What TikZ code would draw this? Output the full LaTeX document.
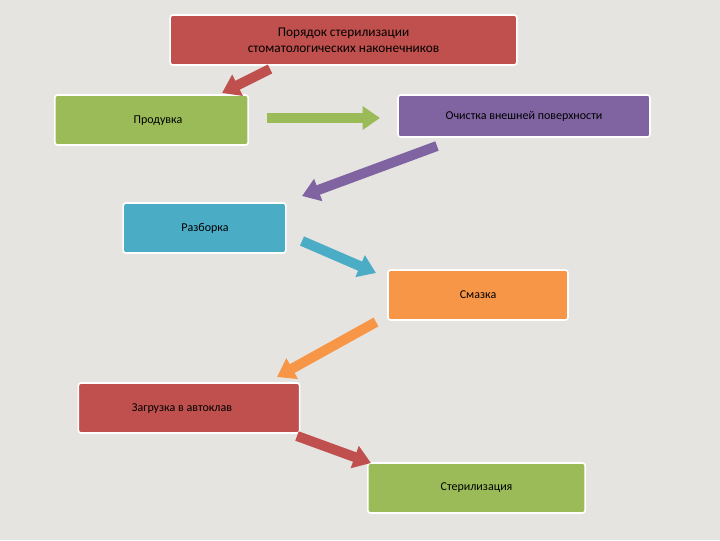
\documentclass[tikz,border=0pt]{standalone}
\usepackage{fontspec}
\setmainfont{Carlito}
\usetikzlibrary{arrows.meta}
\definecolor{cred}{HTML}{C0504D}
\definecolor{cgreen}{HTML}{9BBB59}
\definecolor{cpurple}{HTML}{8064A2}
\definecolor{cblue}{HTML}{4BACC6}
\definecolor{corange}{HTML}{F79646}
\definecolor{bg}{HTML}{E6E4E0}
\tikzset{
 box/.style={draw=white,line width=1.2pt,rounded corners=2pt,minimum height=37.5pt,inner sep=0pt,font=\small},
 blk/.style={line width=7.5pt,-{Triangle[length=13pt,width=17pt]}},
}
\begin{document}
\begin{tikzpicture}[x=0.75pt,y=-0.75pt]
\useasboundingbox (0,0) rectangle (720,540);
\fill[bg] (0,0) rectangle (720,540);
\node[box,fill=cred,minimum width=260pt,font=\normalsize,align=center] (t) at (343.5,40) {Порядок стерилизации\\стоматологических наконечников};
\node[box,fill=cgreen,minimum width=145pt] (p) at (151.5,120) {};
\node at (158,121) {\small Продувка};
\node[box,fill=cpurple,minimum width=189pt,minimum height=31.5pt] (o) at (524,116) {Очистка внешней поверхности};
\node[box,fill=cblue,minimum width=122pt] (r) at (204.5,228) {};
\node at (205,228) {\small Разборка};
\node[box,fill=corange,minimum width=135pt] (s) at (478,295) {Смазка};
\node[box,fill=cred,minimum width=166pt] (z) at (189,408) {};
\node at (182,409) {\small Загрузка в автоклав};
\node[box,fill=cgreen,minimum width=163pt] (st) at (476.5,488) {Стерилизация};
\coordinate (a1) at (270,69); \coordinate (b1) at (222,93);
\coordinate (a2) at (267,118); \coordinate (b2) at (380,118);
\coordinate (a3) at (437,146); \coordinate (b3) at (302,196);
\coordinate (a4) at (302,241); \coordinate (b4) at (376,273);
\coordinate (a5) at (376,322); \coordinate (b5) at (277,377);
\coordinate (a6) at (297,436); \coordinate (b6) at (371,463);
\draw[blk,cred] (a1) -- (b1);
\draw[blk,cgreen] (a2) -- (b2);
\draw[blk,cpurple] (a3) -- (b3);
\draw[blk,cblue] (a4) -- (b4);
\draw[blk,corange] (a5) -- (b5);
\draw[blk,cred] (a6) -- (b6);
\end{tikzpicture}
\end{document}
